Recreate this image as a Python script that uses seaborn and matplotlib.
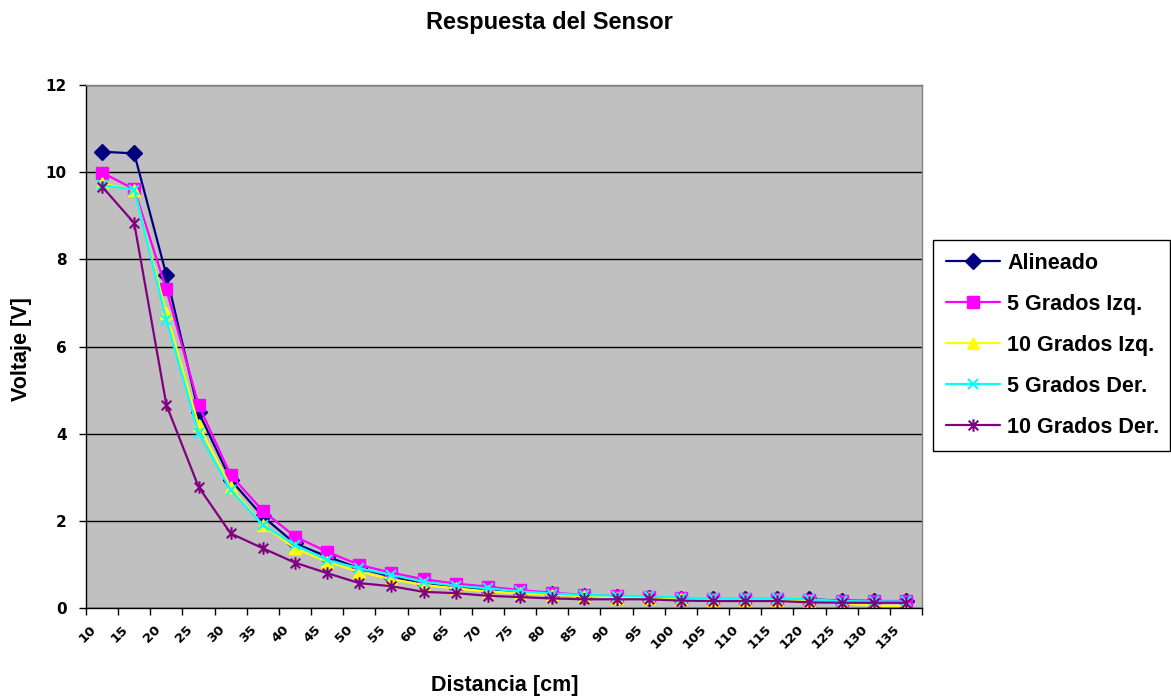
import numpy as np
import pandas as pd
import matplotlib
matplotlib.use("Agg")
import matplotlib.pyplot as plt
from matplotlib.path import Path
from matplotlib.transforms import ScaledTranslation
import seaborn as sns

distancia = [10, 15, 20, 25, 30, 35, 40, 45, 50, 55, 60, 65, 70, 75, 80,
             85, 90, 95, 100, 105, 110, 115, 120, 125, 130, 135]
alineado = [10.47, 10.43, 7.64, 4.50, 2.94, 2.10, 1.48, 1.18, 0.91, 0.72, 0.57, 0.49, 0.41,
            0.36, 0.31, 0.27, 0.25, 0.24, 0.21, 0.20, 0.20, 0.20, 0.20, 0.17, 0.16, 0.15]
grados5_izq = [9.99, 9.61, 7.31, 4.66, 3.05, 2.23, 1.64, 1.29, 0.99, 0.81, 0.66, 0.56, 0.49,
               0.41, 0.35, 0.30, 0.27, 0.25, 0.22, 0.20, 0.20, 0.20, 0.18, 0.17, 0.16, 0.16]
grados10_izq = [9.74, 9.59, 6.76, 4.20, 2.77, 1.90, 1.37, 1.06, 0.83, 0.66, 0.53, 0.45, 0.38,
                0.34, 0.30, 0.27, 0.24, 0.22, 0.20, 0.18, 0.18, 0.18, 0.15, 0.12, 0.05, 0.05]
grados5_der = [9.70, 9.60, 6.61, 4.02, 2.71, 1.90, 1.45, 1.10, 0.91, 0.76, 0.60, 0.51, 0.45,
               0.38, 0.33, 0.30, 0.28, 0.27, 0.24, 0.22, 0.22, 0.22, 0.20, 0.16, 0.15, 0.15]
grados10_der = [9.67, 8.83, 4.66, 2.78, 1.71, 1.37, 1.04, 0.80, 0.57, 0.50, 0.37, 0.34, 0.28,
                0.25, 0.22, 0.20, 0.20, 0.20, 0.17, 0.16, 0.16, 0.16, 0.13, 0.12, 0.12, 0.12]
series_names = ["Alineado", "5 Grados Izq.", "10 Grados Izq.", "5 Grados Der.", "10 Grados Der."]
y_ticks = [0, 2, 4, 6, 8, 10, 12]

series_values = [alineado, grados5_izq, grados10_izq, grados5_der, grados10_der]
colors = ["#000080", "#FF00FF", "#FFFF00", "#00FFFF", "#800080"]

asterisk = Path([(-1, -1), (1, 1), (-1, 1), (1, -1), (0, -1.3), (0, 1.3)],
                [Path.MOVETO, Path.LINETO] * 3)
marker_specs = [
    dict(marker="D", markersize=8.5, markeredgewidth=1),
    dict(marker="s", markersize=8.5, markeredgewidth=1),
    dict(marker="^", markersize=8.5, markeredgewidth=1),
    dict(marker="x", markersize=7.5, markeredgewidth=1.5),
    dict(marker=asterisk, markersize=9, markeredgewidth=1.5),
]

sns.set_theme(style="white")
plt.rcParams["font.family"] = ["Liberation Sans", "DejaVu Sans"]
for k in ["text.color", "axes.labelcolor", "xtick.color", "ytick.color"]:
    plt.rcParams[k] = "black"

fig = plt.figure(figsize=(11.71, 6.96), dpi=100)
W, H = 1171, 696
ax = fig.add_axes([86 / W, 1 - 608 / H, (922 - 86) / W, (608 - 85) / H])
ax.set_facecolor("#C0C0C0")

positions = np.arange(len(distancia))
for name, vals, col, ms in zip(series_names, series_values, colors, marker_specs):
    df = pd.DataFrame({"pos": positions, "v": vals})
    sns.lineplot(data=df, x="pos", y="v", ax=ax, color=col, linewidth=1.6,
                 errorbar=None, markerfacecolor=col, markeredgecolor=col, **ms)

ax.set_xlim(-0.5, len(distancia) - 0.5)
ax.set_ylim(0, 12)
ax.set_yticks(y_ticks)
ax.set_yticklabels([str(t) for t in y_ticks], fontsize=11, fontweight="bold",
                   family="DejaVu Sans")
ax.yaxis.grid(True, color="black", linewidth=1)
ax.xaxis.grid(False)
ax.set_axisbelow(True)

ax.set_xticks(np.arange(-0.5, len(distancia), 1.0))
ax.set_xticklabels([])
ax.set_xticks(positions, minor=True)
ax.set_xticklabels([str(d) for d in distancia], minor=True, rotation=45,
                   ha="right", va="center", rotation_mode="anchor",
                   fontsize=9.5, fontweight="bold", family="DejaVu Sans")
ax.tick_params(axis="x", which="major", bottom=True, direction="out", length=5,
               width=1, color="black")
ax.tick_params(axis="x", which="minor", bottom=True, length=0, pad=14)
ax.tick_params(axis="y", left=True, direction="out", length=5, width=1,
               color="black", pad=9)
for lab in ax.get_xticklabels(minor=True):
    lab.set_transform(lab.get_transform() + ScaledTranslation(-6 / 72, 0, fig.dpi_scale_trans))

ax.set_xlabel("")
ax.set_ylabel("")
for side in ["left", "bottom"]:
    ax.spines[side].set_color("black")
    ax.spines[side].set_linewidth(1)
for side in ["top", "right"]:
    ax.spines[side].set_color("#808080")
    ax.spines[side].set_linewidth(1)

fig.text(549 / W, 1 - 22 / H, "Respuesta del Sensor", ha="center", va="center",
         fontsize=17, fontweight="bold")
fig.text(505 / W, 1 - 686 / H, "Distancia [cm]", ha="center", va="center",
         fontsize=15.5, fontweight="bold")
fig.text(22 / W, 1 - 349 / H, "Voltaje [V]", ha="center", va="center",
         rotation=90, fontsize=15.5, fontweight="bold")

handles = ax.get_lines()[:5]
leg = ax.legend(handles=handles, labels=series_names, loc="upper left",
                bbox_to_anchor=(933 / W, 0.35, (1170 - 933) / W, 1 - 240 / H - 0.35),
                bbox_transform=fig.transFigure, mode="expand", borderaxespad=0,
                frameon=True, fancybox=False, framealpha=1, edgecolor="black",
                prop={"weight": "bold", "size": 15.5}, handlelength=2.5,
                handletextpad=0.35, labelspacing=0.93, borderpad=0.6)
leg.get_frame().set_linewidth(1)

fig.savefig("out.png", dpi=100)
